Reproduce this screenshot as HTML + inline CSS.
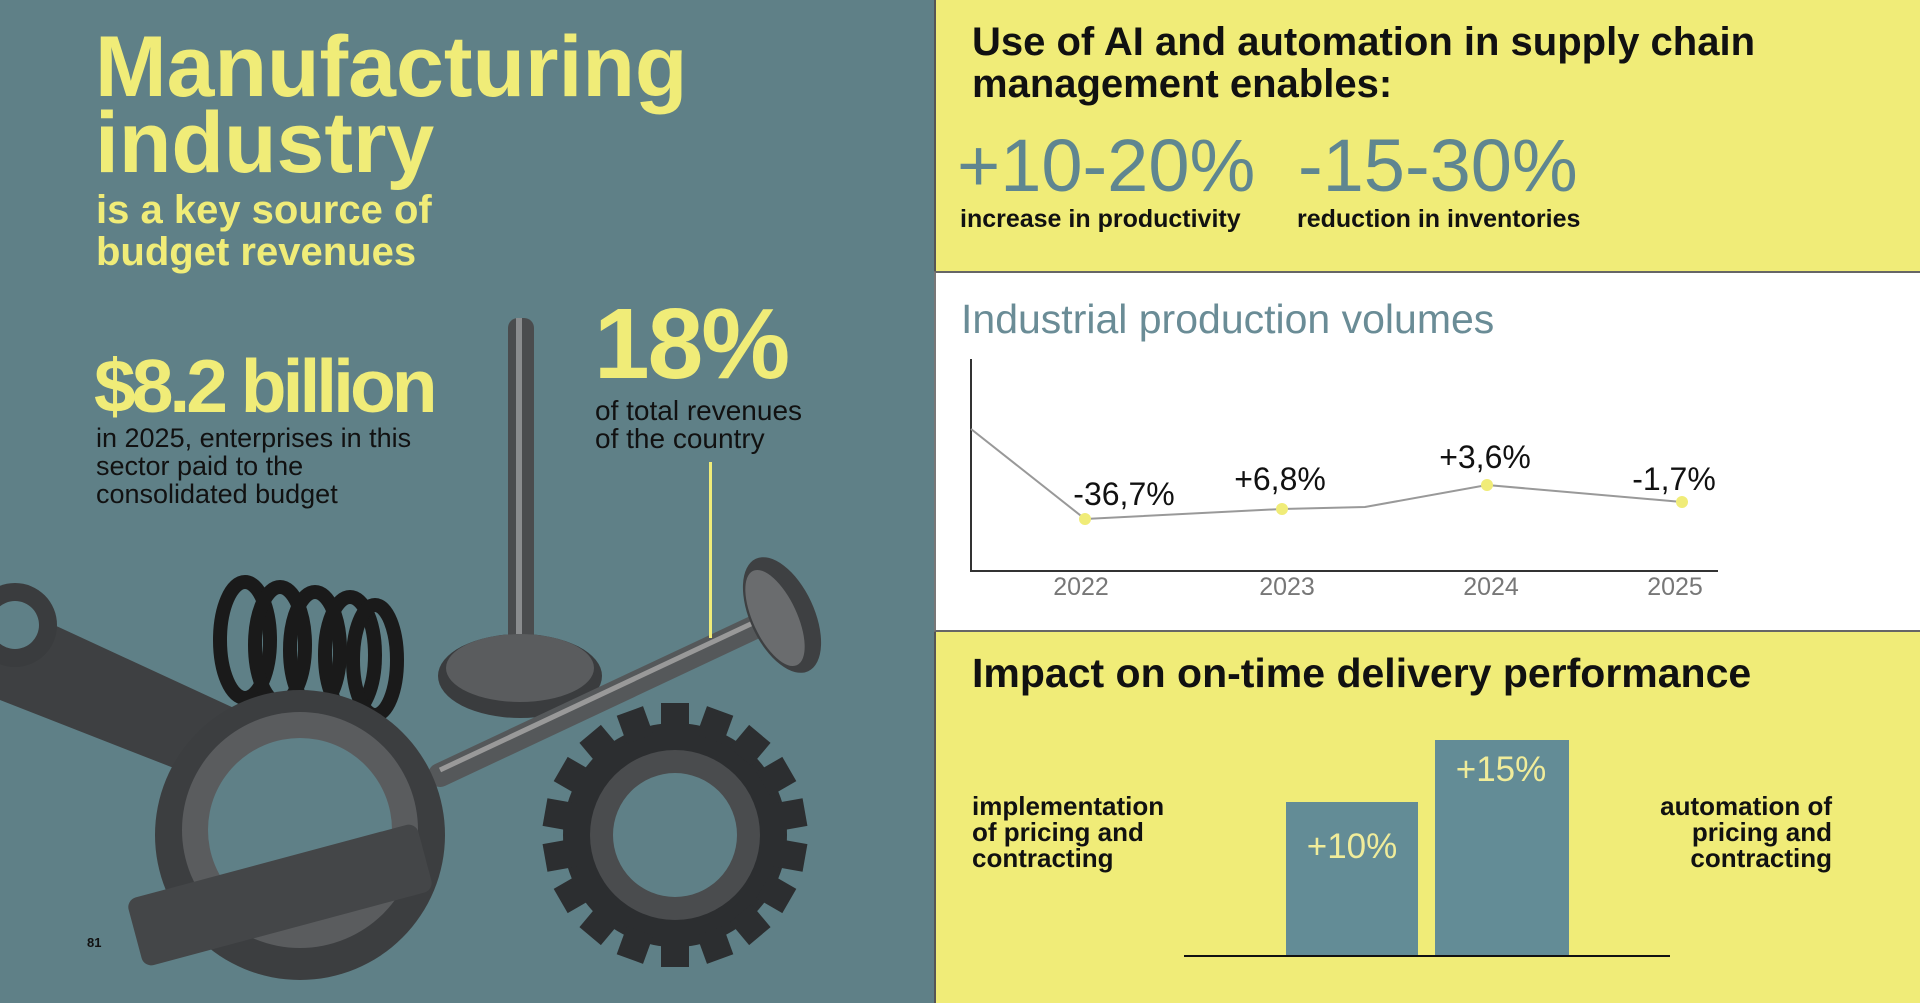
<!DOCTYPE html>
<html><head><meta charset="utf-8"><style>
*{margin:0;padding:0;box-sizing:border-box}
body{width:1920px;height:1003px;overflow:hidden;font-family:"Liberation Sans",sans-serif;position:relative;background:#5f8087}
.t{position:absolute;white-space:nowrap}
</style></head><body>
<div style="position:absolute;left:0;top:0;width:934px;height:1003px;background:#5f8087"></div>
<div style="position:absolute;left:934px;top:0;width:986px;height:271px;background:#f0ec78;border-left:2px solid #555"></div>
<div style="position:absolute;left:934px;top:271px;width:986px;height:361px;background:#fff;border-top:2px solid #666;border-bottom:2px solid #666;border-left:2px solid #777"></div>
<div style="position:absolute;left:934px;top:632px;width:986px;height:371px;background:#f0ec78;border-left:2px solid #555"></div>

<svg style="position:absolute;left:0;top:0" width="934" height="1003">
 <rect x="508" y="318" width="26" height="340" rx="10" fill="#4a4c4e"/>
 <rect x="516" y="318" width="6" height="340" fill="#8a8c8e"/>
 <ellipse cx="520" cy="676" rx="82" ry="42" fill="#3a3c3e"/>
 <ellipse cx="520" cy="668" rx="74" ry="34" fill="#5a5c5e"/>
 <line x1="440" y1="775" x2="770" y2="620" stroke="#55585a" stroke-width="24" stroke-linecap="round"/>
 <line x1="440" y1="770" x2="770" y2="615" stroke="#999" stroke-width="5"/>
 <ellipse cx="782" cy="615" rx="32" ry="62" transform="rotate(-25 782 615)" fill="#3e4042"/>
 <ellipse cx="775" cy="618" rx="22" ry="52" transform="rotate(-25 775 618)" fill="#6a6c6e"/>
 <g fill="none" stroke="#1a1a1a" stroke-width="14">
  <ellipse cx="245" cy="640" rx="25" ry="58"/><ellipse cx="280" cy="645" rx="25" ry="58"/>
  <ellipse cx="315" cy="650" rx="25" ry="58"/><ellipse cx="350" cy="655" rx="25" ry="58"/>
  <ellipse cx="375" cy="660" rx="22" ry="55"/>
 </g>
 <g transform="translate(675,835)">
  <g fill="#2c2e30">
   <circle r="112"/>
   <g id="tt"><rect x="-14" y="-132" width="28" height="30"/></g>
   <use href="#tt" transform="rotate(20)"/><use href="#tt" transform="rotate(40)"/><use href="#tt" transform="rotate(60)"/><use href="#tt" transform="rotate(80)"/><use href="#tt" transform="rotate(100)"/><use href="#tt" transform="rotate(120)"/><use href="#tt" transform="rotate(140)"/><use href="#tt" transform="rotate(160)"/><use href="#tt" transform="rotate(180)"/><use href="#tt" transform="rotate(200)"/><use href="#tt" transform="rotate(220)"/><use href="#tt" transform="rotate(240)"/><use href="#tt" transform="rotate(260)"/><use href="#tt" transform="rotate(280)"/><use href="#tt" transform="rotate(300)"/><use href="#tt" transform="rotate(320)"/><use href="#tt" transform="rotate(340)"/>
  </g>
  <circle r="85" fill="#4a4c4e"/>
  <circle r="62" fill="#5f8087"/>
 </g>
 <path d="M0 600 L0 700 L230 790 L260 720 Z" fill="#3e4042"/>
 <circle cx="15" cy="625" r="42" fill="#3a3c3e"/><circle cx="15" cy="625" r="24" fill="#5f8087"/>
 <circle cx="300" cy="835" r="145" fill="#3c3e40"/>
 <circle cx="300" cy="830" r="118" fill="#5a5c5e"/>
 <circle cx="300" cy="830" r="92" fill="#5f8087"/>
 <rect x="130" y="860" width="300" height="70" rx="10" transform="rotate(-15 280 895)" fill="#444648"/>
 <rect x="709" y="462" width="3" height="176" fill="#f0ec78"/>
</svg>

<div class="t" style="left:95px;top:29px;font-size:86px;font-weight:bold;color:#f0ec78;line-height:76px">Manufacturing</div>
<div class="t" style="left:95px;top:105px;font-size:86px;font-weight:bold;color:#f0ec78;line-height:76px">industry</div>
<div class="t" style="left:96px;top:189px;font-size:40px;font-weight:bold;color:#f0ec78;line-height:42px">is a key source of<br>budget revenues</div>
<div class="t" style="left:94px;top:351px;font-size:75px;font-weight:bold;color:#f0ec78;letter-spacing:-4px;line-height:70px">$8.2 billion</div>
<div class="t" style="left:96px;top:424px;font-size:27px;color:#111;line-height:28px">in 2025, enterprises in this<br>sector paid to the<br>consolidated budget</div>
<div class="t" style="left:594px;top:298px;font-size:100px;font-weight:bold;color:#f0ec78;line-height:92px;letter-spacing:-2px">18%</div>
<div class="t" style="left:595px;top:397px;font-size:28px;color:#111;line-height:28px">of total revenues<br>of the country</div>
<div class="t" style="left:87px;top:935px;font-size:13px;font-weight:bold;color:#111">81</div>

<div class="t" style="left:972px;top:21px;font-size:40px;font-weight:bold;color:#111;line-height:42px">Use of AI and automation in supply chain<br>management enables:</div>
<div class="t" style="left:957px;top:130px;font-size:74px;color:#5f8690;line-height:72px">+10-20%</div>
<div class="t" style="left:1298px;top:130px;font-size:74px;color:#5f8690;line-height:72px">-15-30%</div>
<div class="t" style="left:960px;top:205px;font-size:25px;font-weight:bold;color:#111">increase in productivity</div>
<div class="t" style="left:1297px;top:205px;font-size:25px;font-weight:bold;color:#111">reduction in inventories</div>

<div class="t" style="left:961px;top:299px;font-size:41px;color:#6a8c96;line-height:40px">Industrial production volumes</div>
<svg style="position:absolute;left:0;top:0" width="1920" height="1003">
 <line x1="971" y1="359" x2="971" y2="572" stroke="#333" stroke-width="2"/>
 <line x1="970" y1="571" x2="1718" y2="571" stroke="#333" stroke-width="2"/>
 <polyline points="971,429 1085,519 1282,509 1365,507 1487,485 1682,502" fill="none" stroke="#999" stroke-width="2"/>
 <g fill="#f0ec78"><circle cx="1085" cy="519" r="6"/><circle cx="1282" cy="509" r="6"/><circle cx="1487" cy="485" r="6"/><circle cx="1682" cy="502" r="6"/></g>
 <g font-family="Liberation Sans" font-size="32" fill="#111" text-anchor="middle">
  <text x="1124" y="505">-36,7%</text><text x="1280" y="490">+6,8%</text><text x="1485" y="468">+3,6%</text><text x="1674" y="490">-1,7%</text>
 </g>
 <g font-family="Liberation Sans" font-size="25" fill="#777" text-anchor="middle">
  <text x="1081" y="595">2022</text><text x="1287" y="595">2023</text><text x="1491" y="595">2024</text><text x="1675" y="595">2025</text>
 </g>
 <rect x="1286" y="802" width="132" height="154" fill="#638c96"/>
 <rect x="1435" y="740" width="134" height="216" fill="#638c96"/>
 <line x1="1184" y1="956" x2="1670" y2="956" stroke="#111" stroke-width="2"/>
 <g font-family="Liberation Sans" font-size="35" fill="#f0ec9a" text-anchor="middle">
  <text x="1352" y="858">+10%</text><text x="1501" y="781">+15%</text>
 </g>
</svg>
<div class="t" style="left:972px;top:650px;font-size:41px;font-weight:bold;color:#111">Impact on on-time delivery performance</div>
<div class="t" style="left:972px;top:793px;font-size:26px;font-weight:bold;color:#111;line-height:26px">implementation<br>of pricing and<br>contracting</div>
<div class="t" style="right:88px;top:793px;font-size:26px;font-weight:bold;color:#111;line-height:26px;text-align:right">automation of<br>pricing and<br>contracting</div>
</body></html>
